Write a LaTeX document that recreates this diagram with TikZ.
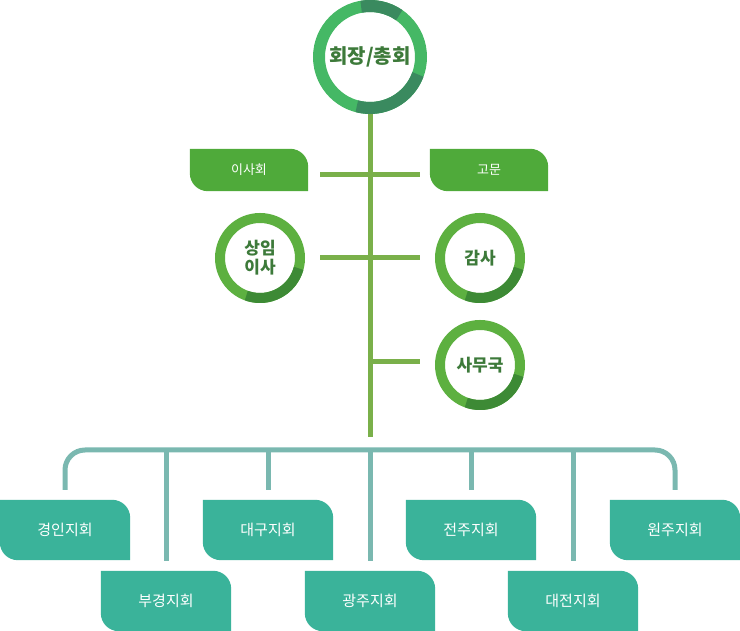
\documentclass[tikz,border=0pt]{standalone}
\usepackage{fontspec}
\setmainfont{Noto Sans CJK KR}
\usetikzlibrary{positioning}
\definecolor{ringgreen}{HTML}{45B865}
\definecolor{ringdark}{HTML}{3A8A5F}
\definecolor{leafgreen}{HTML}{5DB040}
\definecolor{leafdark}{HTML}{3D8A35}
\definecolor{tabgreen}{HTML}{4FAA3A}
\definecolor{stemgreen}{HTML}{7AB04A}
\definecolor{txtgreen}{HTML}{3D7A3A}
\definecolor{boxteal}{HTML}{3AB39A}
\definecolor{branchteal}{HTML}{7AB8B0}
\newcommand{\tabshape}[2]{%
  \fill[#2] (#1.north west) -- ([xshift=-18pt]#1.north east)
    arc[start angle=90,end angle=0,radius=18pt] -- (#1.south east)
    -- ([xshift=18pt]#1.south west)
    arc[start angle=270,end angle=180,radius=18pt] -- cycle;}
\begin{document}
\begin{tikzpicture}[x=1pt,y=1pt]
\tikzset{ >=latex,
  ring/.style={circle, draw=leafgreen, line width=10pt, minimum size=80pt,
    inner sep=0pt, font=\fontsize{17}{19}\selectfont\bfseries, text=txtgreen, align=center},
  tab/.style={minimum width=118pt, minimum height=42pt, inner sep=0pt,
    text=white, font=\fontsize{13}{14}\selectfont},
  branchbox/.style={minimum width=130pt, minimum height=60pt, inner sep=0pt,
    text=white, font=\fontsize{15}{16}\selectfont},
  stem/.style={stemgreen, line width=5pt},
  branch/.style={branchteal, line width=5pt},
}
\useasboundingbox (0,0) rectangle (740,631);

% head
\node [ring, draw=ringgreen, line width=12pt, minimum size=102pt,
  font=\fontsize{20}{22}\selectfont\bfseries] (head) at (370,574) {회장/총회};
\draw [ringdark, line width=12pt] (head.center) ++(-20:51) arc[start angle=-20,end angle=-105,radius=51];
\draw [ringdark, line width=12pt] (head.center) ++(55:51) arc[start angle=55,end angle=100,radius=51];

% board and advisors
\node [tab] (board) at (249,461) {};
\tabshape{board}{tabgreen}
\node [tab] at (board) {이사회};
\node [tab] (advisor) at (489,461) {};
\tabshape{advisor}{tabgreen}
\node [tab] at (advisor) {고문};

% small circles
\node [ring] (standing) at (260,373) {상임\\이사};
\node [ring] (audit) at (480,373) {감사};
\node [ring] (office) at (480,266) {사무국};
\foreach \c in {standing, audit, office}
  \draw [leafdark, line width=10pt] (\c.center) ++(-15:40) arc[start angle=-15,end angle=-110,radius=40];

% stem
\coordinate (trunkend) at (370,194);
\draw [stem] (head.south) -- (trunkend);
\coordinate (l1) at (320,456); \coordinate (r1) at (420,456);
\coordinate (l2) at (320,373); \coordinate (r2) at (420,373);
\coordinate (m3) at (370,269); \coordinate (r3) at (420,269);
\draw [stem] (l1) -- (r1);
\draw [stem] (l2) -- (r2);
\draw [stem] (m3) -- (r3);

% branches
\node [branchbox] (gyeongin) at (65,101)  {};
\node [branchbox] (daegu)    at (268,101) {};
\node [branchbox] (jeonju)   at (471,101) {};
\node [branchbox] (wonju)    at (675,101) {};
\node [branchbox] (bugyeong) at (166,30)  {};
\node [branchbox] (gwangju)  at (370,30)  {};
\node [branchbox] (daejeon)  at (573,30)  {};
\foreach \b/\t in {gyeongin/경인지회, daegu/대구지회, jeonju/전주지회, wonju/원주지회,
  bugyeong/부경지회, gwangju/광주지회, daejeon/대전지회} {
  \tabshape{\b}{boxteal}
  \node [branchbox] at (\b) {\t};
}

\coordinate (hub) at (370,181);
\draw [branch, rounded corners=20pt] ([yshift=10pt]gyeongin.north) |- (hub) -| ([yshift=10pt]wonju.north);
\foreach \b in {daegu, jeonju}
  \draw [branch] ([yshift=10pt]\b.north) -- (\b.north |- hub);
\foreach \b in {bugyeong, gwangju, daejeon}
  \draw [branch] ([yshift=10pt]\b.north) -- (\b.north |- hub);
\end{tikzpicture}
\end{document}
